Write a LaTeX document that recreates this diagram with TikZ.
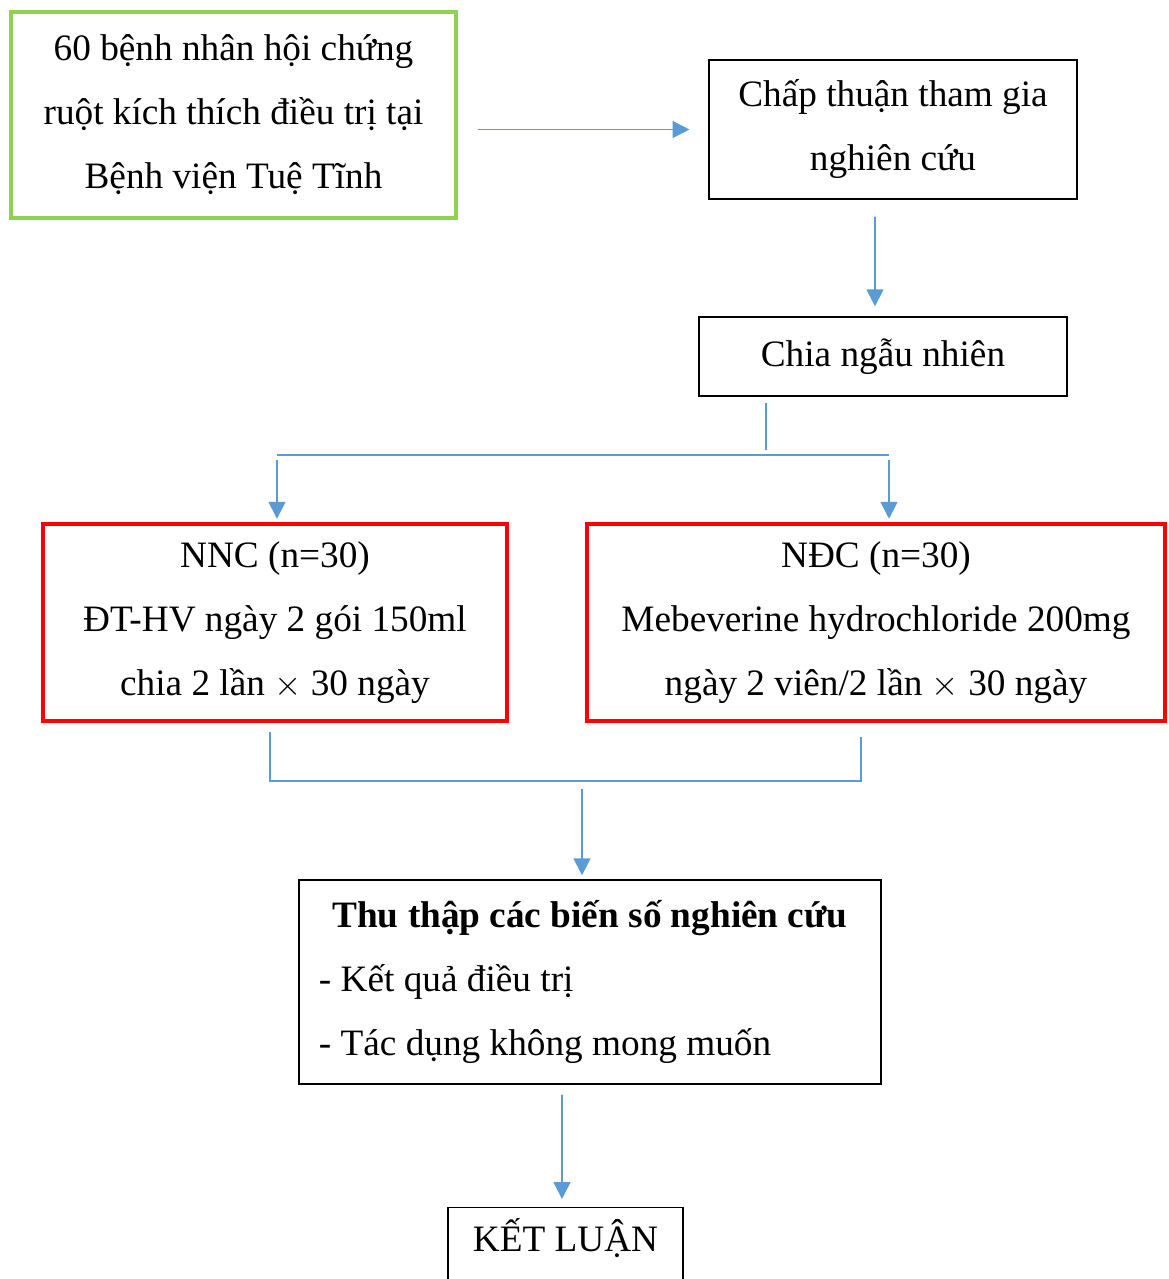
\documentclass[tikz,border=0pt]{standalone}
\usepackage{fontspec}
\setmainfont{Liberation Serif}
\usepackage{tikz}
\usetikzlibrary{arrows.meta, positioning, calc}
\definecolor{flowblue}{HTML}{5B9BD5}
\definecolor{startgreen}{HTML}{92D050}
\definecolor{groupred}{HTML}{FF0000}

\begin{document}
\begin{tikzpicture}[x=0.025cm, y=-0.025cm,
    every node/.style={font=\fontsize{26.5}{45.5}\selectfont, align=center},
    plainbox/.style={draw=black, line width=1pt},
    arr/.style={-{Triangle[length=0.42cm, width=0.42cm]}, flowblue, line width=1.2pt},
    link/.style={flowblue, line width=1.2pt}]
  \useasboundingbox (0,0) rectangle (1168,1279);
  \clip (0,0) rectangle (1168,1279);
  % Patients -> consent -> randomisation
  \node[draw=startgreen, line width=2.85pt, minimum width=11.125cm,
        minimum height=5.15cm] (patients) at (233.5,115)
        {60 bệnh nhân hội chứng\\ruột kích thích điều trị tại\\Bệnh viện Tuệ Tĩnh};
  \node[plainbox, minimum width=9.2cm, minimum height=3.475cm] (consent) at (893,129.5)
        {Chấp thuận tham gia\\nghiên cứu};
  \node[plainbox, minimum width=9.2cm, minimum height=1.975cm] (random) at (883,356.5)
        {Chia ngẫu nhiên};
  % Two groups
  \node[draw=groupred, line width=2.85pt, minimum width=11.6cm,
        minimum height=4.925cm] (nnc) at (275,622.5)
        {NNC (n=30)\\ĐT-HV ngày 2 gói 150ml\\chia 2 lần $\times$ 30 ngày};
  \node[draw=groupred, line width=2.85pt, minimum width=14.45cm,
        minimum height=4.925cm] (ndc) at (876,622.5)
        {NĐC (n=30)\\Mebeverine hydrochloride 200mg\\ngày 2 viên/2 lần $\times$ 30 ngày};
  % Data collection and conclusion
  \node[plainbox, align=left, inner xsep=0.5cm,
        minimum width=14.55cm, minimum height=5.1cm] (collect) at (590,982)
        {\makebox[13.55cm][c]{\textbf{Thu thập các biến số nghiên cứu}}\\
         - Kết quả điều trị\\- Tác dụng không mong muốn};
  \node[plainbox, anchor=north, minimum width=5.875cm, inner ysep=0.25cm,
        text height=0.85cm, text depth=1cm] (result) at (565.5,1207)
        {KẾT LUẬN};
  % Connectors
  \coordinate (forkL) at (277,455);
  \coordinate (forkR) at (889,455);
  \coordinate (forkM) at (766,455);
  \coordinate (joinL) at (270,781);
  \coordinate (joinR) at (861,781);
  \coordinate (joinM) at (582,781);
  \draw[arr, shorten <=0.5cm, shorten >=0.47cm] (patients.east |- consent.west) -- (consent.west);
  \draw[arr, shorten <=0.42cm, shorten >=0.25cm]
    ([xshift=-0.45cm]consent.south) -- ([xshift=-0.2cm]random.north);
  \draw[link, shorten <=0.15cm, shorten >=0.12cm] (random.south -| forkM) -- (forkM);
  \draw[link] (forkL) -- (forkR);
  \draw[arr, shorten <=0.12cm, shorten >=0.08cm] (forkL) -- (forkL |- nnc.north);
  \draw[arr, shorten <=0.12cm, shorten >=0.08cm] (forkR) -- (forkR |- ndc.north);
  \draw[link, shorten <=0.22cm, shorten >=0.35cm]
    (nnc.south -| joinL) -- (joinL) -- (joinR) -- (ndc.south -| joinR);
  \draw[arr, shorten <=0.2cm, shorten >=0.1cm] (joinM) -- (joinM |- collect.north);
  \draw[arr, shorten <=0.25cm, shorten >=0.2cm]
    ([xshift=-0.7cm]collect.south) -- ([xshift=-0.088cm]result.north);
\end{tikzpicture}
\end{document}
